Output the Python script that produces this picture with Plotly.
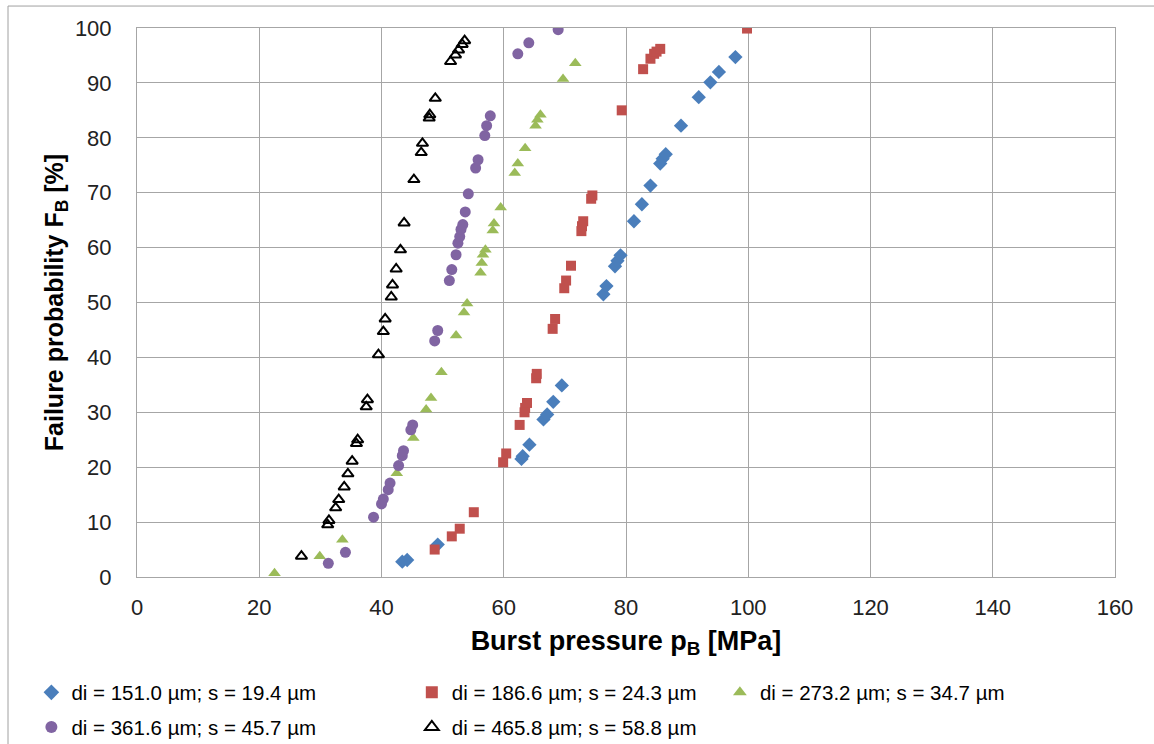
import plotly.graph_objects as go

# Burst pressure p_B [MPa] and failure probability F_B [%] for each tube geometry
p_151 = [43.4, 44.2, 49.2, 62.9, 63.1, 64.2, 66.5, 67.1, 68.1, 69.5,
         76.3, 76.8, 78.2, 78.6, 79.1, 81.3, 82.6, 84.0, 85.6, 86.0,
         86.5, 89.0, 91.9, 93.8, 95.2, 97.9]
f_151 = [2.8, 3.1, 5.9, 21.5, 22.0, 24.1, 28.7, 29.6, 31.9, 34.9,
         51.5, 53.0, 56.6, 57.6, 58.6, 64.8, 67.9, 71.3, 75.3, 76.2,
         77.0, 82.2, 87.4, 90.1, 92.0, 94.7]

p_186 = [48.7, 51.5, 52.8, 55.1, 59.9, 60.4, 62.6, 63.4, 63.5, 63.8,
         65.3, 65.4, 68.0, 68.4, 69.9, 70.2, 71.0, 72.7, 72.8, 73.0,
         74.3, 74.5, 79.3, 82.8, 84.0, 84.6, 85.0, 85.6, 99.8]
f_186 = [5.0, 7.4, 8.8, 11.8, 20.9, 22.5, 27.7, 30.0, 30.8, 31.7,
         36.2, 37.0, 45.2, 47.0, 52.6, 54.0, 56.7, 63.0, 63.9, 64.8,
         68.9, 69.5, 85.0, 92.5, 94.4, 95.3, 95.7, 96.2, 99.9]

p_273 = [22.5, 29.9, 33.6, 42.5, 45.2, 47.3, 48.1, 49.8, 52.2, 53.5,
         54.0, 56.2, 56.4, 56.6, 57.0, 58.2, 58.4, 59.5, 61.8, 62.3,
         63.5, 65.2, 65.5, 66.0, 69.7, 71.7]
f_273 = [0.7, 3.8, 6.8, 18.9, 25.3, 30.5, 32.6, 37.3, 44.0, 48.2,
         49.8, 55.4, 57.2, 58.7, 59.6, 63.1, 64.4, 67.3, 73.6, 75.3,
         78.1, 82.2, 83.3, 84.2, 90.7, 93.6]

p_361 = [31.3, 34.1, 38.7, 40.0, 40.3, 41.1, 41.4, 42.8, 43.4, 43.6,
         44.8, 45.1, 48.7, 49.2, 51.1, 51.5, 52.2, 52.5, 52.8, 53.0,
         53.3, 53.7, 54.2, 55.4, 55.8, 56.9, 57.2, 57.8, 62.3, 64.1,
         68.9]
f_361 = [2.5, 4.5, 10.9, 13.3, 14.2, 15.9, 17.1, 20.3, 22.1, 23.0,
         26.8, 27.7, 43.0, 44.9, 54.0, 56.0, 58.7, 60.8, 62.0, 63.3,
         64.2, 66.5, 69.8, 74.5, 76.0, 80.4, 82.2, 84.0, 95.3, 97.3,
         99.7]

p_465 = [26.9, 31.2, 31.4, 32.5, 33.0, 33.9, 34.5, 35.2, 35.9, 36.1,
         37.5, 37.7, 39.5, 40.3, 40.6, 41.6, 41.8, 42.4, 43.1, 43.7,
         45.3, 46.5, 46.7, 47.8, 47.9, 48.8, 51.3, 52.1, 52.6, 53.2,
         53.6]
f_465 = [3.8, 9.5, 10.3, 12.6, 14.1, 16.4, 18.8, 21.1, 24.3, 25.0,
         31.0, 32.3, 40.5, 44.7, 47.0, 51.0, 53.2, 56.1, 59.6, 64.5,
         72.4, 77.3, 79.0, 83.6, 84.2, 87.2, 93.9, 95.1, 96.0, 97.0,
         97.7]

x_ticks = [0, 20, 40, 60, 80, 100, 120, 140, 160]
y_ticks = [0, 10, 20, 30, 40, 50, 60, 70, 80, 90, 100]

FONT = "Liberation Sans, Arial, sans-serif"
GRID = "#A6A6A6"

series = [
    ("di = 151.0 µm; s = 19.4 µm", p_151, f_151,
     dict(symbol="diamond", size=11, color="#4A7EBB"), "legend"),
    ("di = 186.6 µm; s = 24.3 µm", p_186, f_186,
     dict(symbol="square", size=10, color="#C0504D"), "legend2"),
    ("di = 273.2 µm; s = 34.7 µm", p_273, f_273,
     dict(symbol="triangle-up", size=11, color="#9BBB59"), "legend3"),
    ("di = 361.6 µm; s = 45.7 µm", p_361, f_361,
     dict(symbol="circle", size=11, color="#8064A2"), "legend"),
    ("di = 465.8 µm; s = 58.8 µm", p_465, f_465,
     dict(symbol="triangle-up-open", size=10, color="black",
          line=dict(width=2, color="black")), "legend2"),
]

fig = go.Figure()
for i, (name, px, fy, mk, lg) in enumerate(series):
    fig.add_trace(go.Scatter(
        x=px, y=fy, mode="markers", name=name, marker=mk,
        legend=lg, legendgroup=f"g{i}",
    ))

legend_common = dict(
    orientation="v", yanchor="top", xanchor="left",
    font=dict(family=FONT, size=20.5, color="black"),
    bgcolor="rgba(0,0,0,0)", itemsizing="constant", itemwidth=30,
    tracegroupgap=5,
)

fig.update_layout(
    width=1154, height=744,
    margin=dict(l=137, r=39, t=28, b=167, autoexpand=False),
    paper_bgcolor="white", plot_bgcolor="white",
    font=dict(family=FONT, color="black"),
    showlegend=True,
    legend=dict(x=-0.108, y=-0.174, **legend_common),
    legend2=dict(x=0.281, y=-0.174, **legend_common),
    legend3=dict(x=0.596, y=-0.174, **legend_common),
    xaxis=dict(
        range=[0, 160], tickvals=x_ticks, ticks="",
        showgrid=True, gridcolor=GRID, gridwidth=1,
        showline=True, linecolor=GRID, linewidth=1, mirror=True,
        zeroline=False, tickfont=dict(family=FONT, size=22, color="#222"),
        ticklabelstandoff=11,
        title=dict(text="Burst pressure p<sub>B</sub> [MPa]",
                   font=dict(family=FONT, size=27, color="black", weight="bold"),
                   standoff=11),
    ),
    yaxis=dict(
        range=[0, 100], tickvals=y_ticks, ticks="",
        showgrid=True, gridcolor=GRID, gridwidth=1,
        showline=True, linecolor=GRID, linewidth=1, mirror=True,
        zeroline=False, tickfont=dict(family=FONT, size=22, color="#222"),
        ticklabelstandoff=20,
        title=dict(text="Failure probability F<sub>B</sub> [%]",
                   font=dict(family=FONT, size=25, color="black", weight="bold"),
                   standoff=4),
    ),
    shapes=[dict(
        type="rect", xref="paper", yref="paper",
        x0=-0.1319, x1=1.06, y0=-0.35, y1=1.040,
        line=dict(color="#A0A0A0", width=1), fillcolor="rgba(0,0,0,0)",
        layer="below",
    )],
)

fig.write_html("out.html")
